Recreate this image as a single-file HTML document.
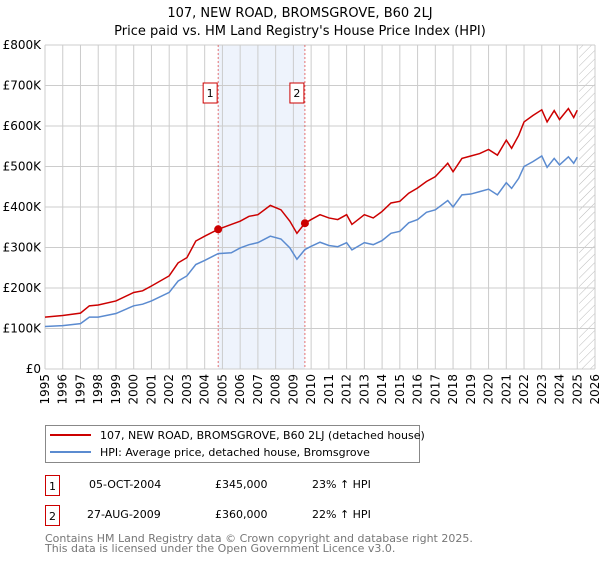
<!DOCTYPE html>
<html><head><meta charset="utf-8"><style>
body{margin:0;background:#fff;font-family:"Liberation Sans","DejaVu Sans",sans-serif;}
svg text{font-family:"DejaVu Sans","Liberation Sans",sans-serif;}
</style></head><body>
<svg id="c" width="600" height="560" xmlns="http://www.w3.org/2000/svg">
<defs><pattern id="hatch" width="6" height="6" patternUnits="userSpaceOnUse" patternTransform="rotate(45)"><line x1="0" y1="0" x2="0" y2="6" stroke="#bbb" stroke-width="1"/></pattern></defs>
<text x="300" y="17" text-anchor="middle" font-size="13">107, NEW ROAD, BROMSGROVE, B60 2LJ</text>
<text x="300" y="35" text-anchor="middle" font-size="13">Price paid vs. HM Land Registry's House Price Index (HPI)</text>
<g id="plot"></g>
<g>
<rect x="45.5" y="425.5" width="374" height="37" fill="#fff" stroke="#888"/>
<line x1="50" y1="435" x2="91" y2="435" stroke="#cc0000" stroke-width="2"/>
<text x="100" y="439" font-size="11">107, NEW ROAD, BROMSGROVE, B60 2LJ (detached house)</text>
<line x1="50" y1="452" x2="91" y2="452" stroke="#5b8bd0" stroke-width="2"/>
<text x="100" y="456" font-size="11">HPI: Average price, detached house, Bromsgrove</text>
</g>
<g font-size="11">
<rect x="45.5" y="475.5" width="14" height="20" fill="#fff" stroke="#cc0000"/><text x="52.5" y="490" text-anchor="middle">1</text>
<text x="89" y="488">05-OCT-2004</text><text x="215" y="488">£345,000</text><text x="312" y="488">23% ↑ HPI</text>
<rect x="45.5" y="505.5" width="14" height="20" fill="#fff" stroke="#cc0000"/><text x="52.5" y="520" text-anchor="middle">2</text>
<text x="87" y="518">27-AUG-2009</text><text x="215" y="518">£360,000</text><text x="312" y="518">22% ↑ HPI</text>
</g>
<text x="45" y="542" font-size="11" fill="#777">Contains HM Land Registry data © Crown copyright and database right 2025.</text>
<text x="45" y="552" font-size="11" fill="#777">This data is licensed under the Open Government Licence v3.0.</text>
</svg>
<script>
const years=[];for(let y=1995;y<=2026;y++)years.push(y);
const yTicks=[0,100,200,300,400,500,600,700,800];
const yTickLabels=["£0","£100K","£200K","£300K","£400K","£500K","£600K","£700K","£800K"];
const saleDates=[2004.76,2009.65];
const saleValues=[345,360];
const saleLabels=["1","2"];
const redX=[1995,1996,1997,1997.5,1998,1999,2000,2000.5,2001,2002,2002.5,2003,2003.5,2004,2004.76,2005.5,2006,2006.5,2007,2007.7,2008.3,2008.8,2009.2,2009.65,2010,2010.5,2011,2011.5,2012,2012.3,2013,2013.5,2014,2014.5,2015,2015.5,2016,2016.5,2017,2017.7,2018,2018.5,2019,2019.5,2020,2020.5,2021,2021.3,2021.7,2022,2022.5,2023,2023.3,2023.7,2024,2024.5,2024.8,2025];
const redY=[128,132,138,156,158,168,189,193,205,230,262,275,316,328,345,357,365,377,381,404,393,365,335,360,369,381,373,369,381,357,381,373,389,410,414,434,447,463,475,508,487,520,526,532,542,528,565,545,577,610,626,640,610,638,616,643,621,639];
const blueX=redX;
const blueY=[105,107,112,128,128,137,156,160,168,189,217,230,258,268,285,287,299,307,312,328,321,299,271,295,303,313,305,302,312,294,312,307,317,335,340,361,369,387,393,416,400,430,432,438,444,430,460,446,471,500,512,526,498,520,504,524,508,523];
const L=45,R=595,T=45,B=369,X0=1995,X1=2026;
const sx=v=>L+(v-X0)/(X1-X0)*(R-L);
const sy=v=>B-v/800*(B-T);
const NS="http://www.w3.org/2000/svg";
const g=document.getElementById('plot');
function mk(t,a){const e=document.createElementNS(NS,t);for(const k in a)e.setAttribute(k,a[k]);g.appendChild(e);return e;}
let e=mk('rect',{x:sx(saleDates[0]),y:T,width:sx(saleDates[1])-sx(saleDates[0]),height:B-T,fill:'#eef3fc'});


e=mk('rect',{x:sx(2025.1),y:T,width:R-sx(2025.1),height:B-T,fill:'url(#hatch)'});


years.forEach(y=>{const l=mk('line',{x1:sx(y),x2:sx(y),y1:T,y2:B,stroke:'#ccc'});


const tx=sx(y)+4,ty=B+5;
const t=mk('text',{x:tx,y:ty,'text-anchor':'end','font-size':'12',transform:'rotate(-90 '+tx+' '+ty+')'});t.textContent=y;

});
yTicks.forEach((v,i)=>{const l=mk('line',{x1:L,x2:R,y1:sy(v),y2:sy(v),stroke:'#ccc'});


const t=mk('text',{x:L-4,y:sy(v)+4,'text-anchor':'end','font-size':'12'});t.textContent=yTickLabels[i];

});
saleDates.forEach((d,i)=>{const l=mk('line',{x1:sx(d),x2:sx(d),y1:T,y2:B,stroke:'#e05050','stroke-dasharray':'2,2','stroke-width':0.8});


const r=mk('rect',{x:sx(d)-15,y:83,width:14,height:20,fill:'#fff',stroke:'#cc0000'});


const t=mk('text',{x:sx(d)-8,y:97,'text-anchor':'middle','font-size':'11'});t.textContent=saleLabels[i];

});
const pb=mk('polyline',{points:blueX.map((x,i)=>sx(x)+','+sy(blueY[i])).join(' '),fill:'none',stroke:'#5b8bd0','stroke-width':1.5});


const pr=mk('polyline',{points:redX.map((x,i)=>sx(x)+','+sy(redY[i])).join(' '),fill:'none',stroke:'#cc0000','stroke-width':1.5});


saleDates.forEach((d,i)=>{const c=mk('circle',{cx:sx(d),cy:sy(saleValues[i]),r:4,fill:'#cc0000'});

});
</script>
</body></html>
